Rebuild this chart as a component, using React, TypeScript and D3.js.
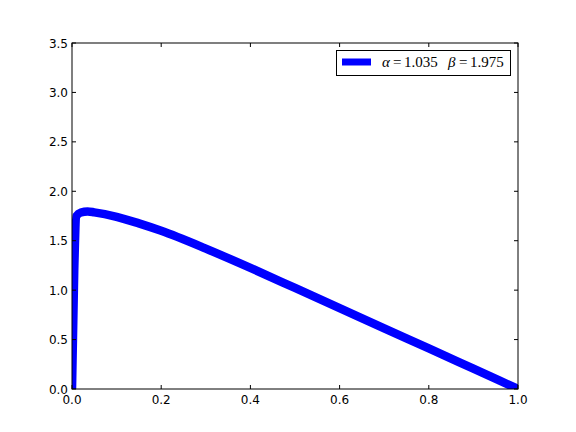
import React from "react";
import * as d3 from "d3";

const xs = [0, 0.005, 0.01, 0.02, 0.035, 0.05, 0.1, 0.15, 0.2, 0.3, 0.4, 0.5, 0.6, 0.7, 0.8, 0.9, 1.0];
const ys = [0, 1.2, 1.75, 1.785, 1.795, 1.787, 1.742, 1.675, 1.60, 1.42, 1.225, 1.022, 0.818, 0.613, 0.41, 0.205, 0.0];
const xTicks = [0, 0.2, 0.4, 0.6, 0.8, 1.0];
const yTicks = [0, 0.5, 1.0, 1.5, 2.0, 2.5, 3.0, 3.5];

export default function App() {
  const W = 576, H = 432;
  const L = 72, R = 518, T = 43, B = 389;
  const x = d3.scaleLinear().domain([0, 1]).range([L, R]);
  const y = d3.scaleLinear().domain([0, 3.5]).range([B, T]);
  const pts: [number, number][] = xs.map((v, i) => [v, ys[i]]);
  const line = d3.line<[number, number]>().x(d => x(d[0])).y(d => y(d[1])).curve(d3.curveMonotoneX);
  const font = "DejaVu Sans";
  const lf = "Liberation Serif";
  return (
    <svg width={W} height={H} style={{ position: "absolute", left: 0, top: 0 }}>
      <rect x={0} y={0} width={W} height={H} fill="#fff" />
      <defs>
        <clipPath id="c"><rect x={L} y={T} width={R - L} height={B - T} /></clipPath>
      </defs>
      <path d={line(pts) || ""} fill="none" stroke="#0000ff" strokeWidth={8.5} strokeLinejoin="round" clipPath="url(#c)" />
      <rect x={L} y={T} width={R - L} height={B - T} fill="none" stroke="#000" strokeWidth={1} />
      {xTicks.map(t => (
        <g key={"x" + t}>
          <line x1={x(t)} x2={x(t)} y1={B} y2={B - 4} stroke="#000" />
          <line x1={x(t)} x2={x(t)} y1={T} y2={T + 4} stroke="#000" />
          <text x={x(t)} y={B + 15} fontSize={12} fontFamily={font} textAnchor="middle">{t.toFixed(1)}</text>
        </g>
      ))}
      {yTicks.map(t => (
        <g key={"y" + t}>
          <line x1={L} x2={L + 4} y1={y(t)} y2={y(t)} stroke="#000" />
          <line x1={R} x2={R - 4} y1={y(t)} y2={y(t)} stroke="#000" />
          <text x={L - 4} y={y(t) + 4.5} fontSize={12} fontFamily={font} textAnchor="end">{t.toFixed(1)}</text>
        </g>
      ))}
      <rect x={336.5} y={50.5} width={174} height={25} fill="#fff" stroke="#000" strokeWidth={1} />
      <line x1={342} x2={371} y1={62} y2={62} stroke="#0000ff" strokeWidth={7} />
      <g fontSize={15} fontFamily={lf}>
        <text x={382} y={67} fontStyle="italic">α</text>
        <text x={393} y={67}>=</text>
        <text x={404} y={67}>1.035</text>
        <text x={448} y={67} fontStyle="italic">β</text>
        <text x={459} y={67}>=</text>
        <text x={470} y={67}>1.975</text>
      </g>
    </svg>
  );
}
